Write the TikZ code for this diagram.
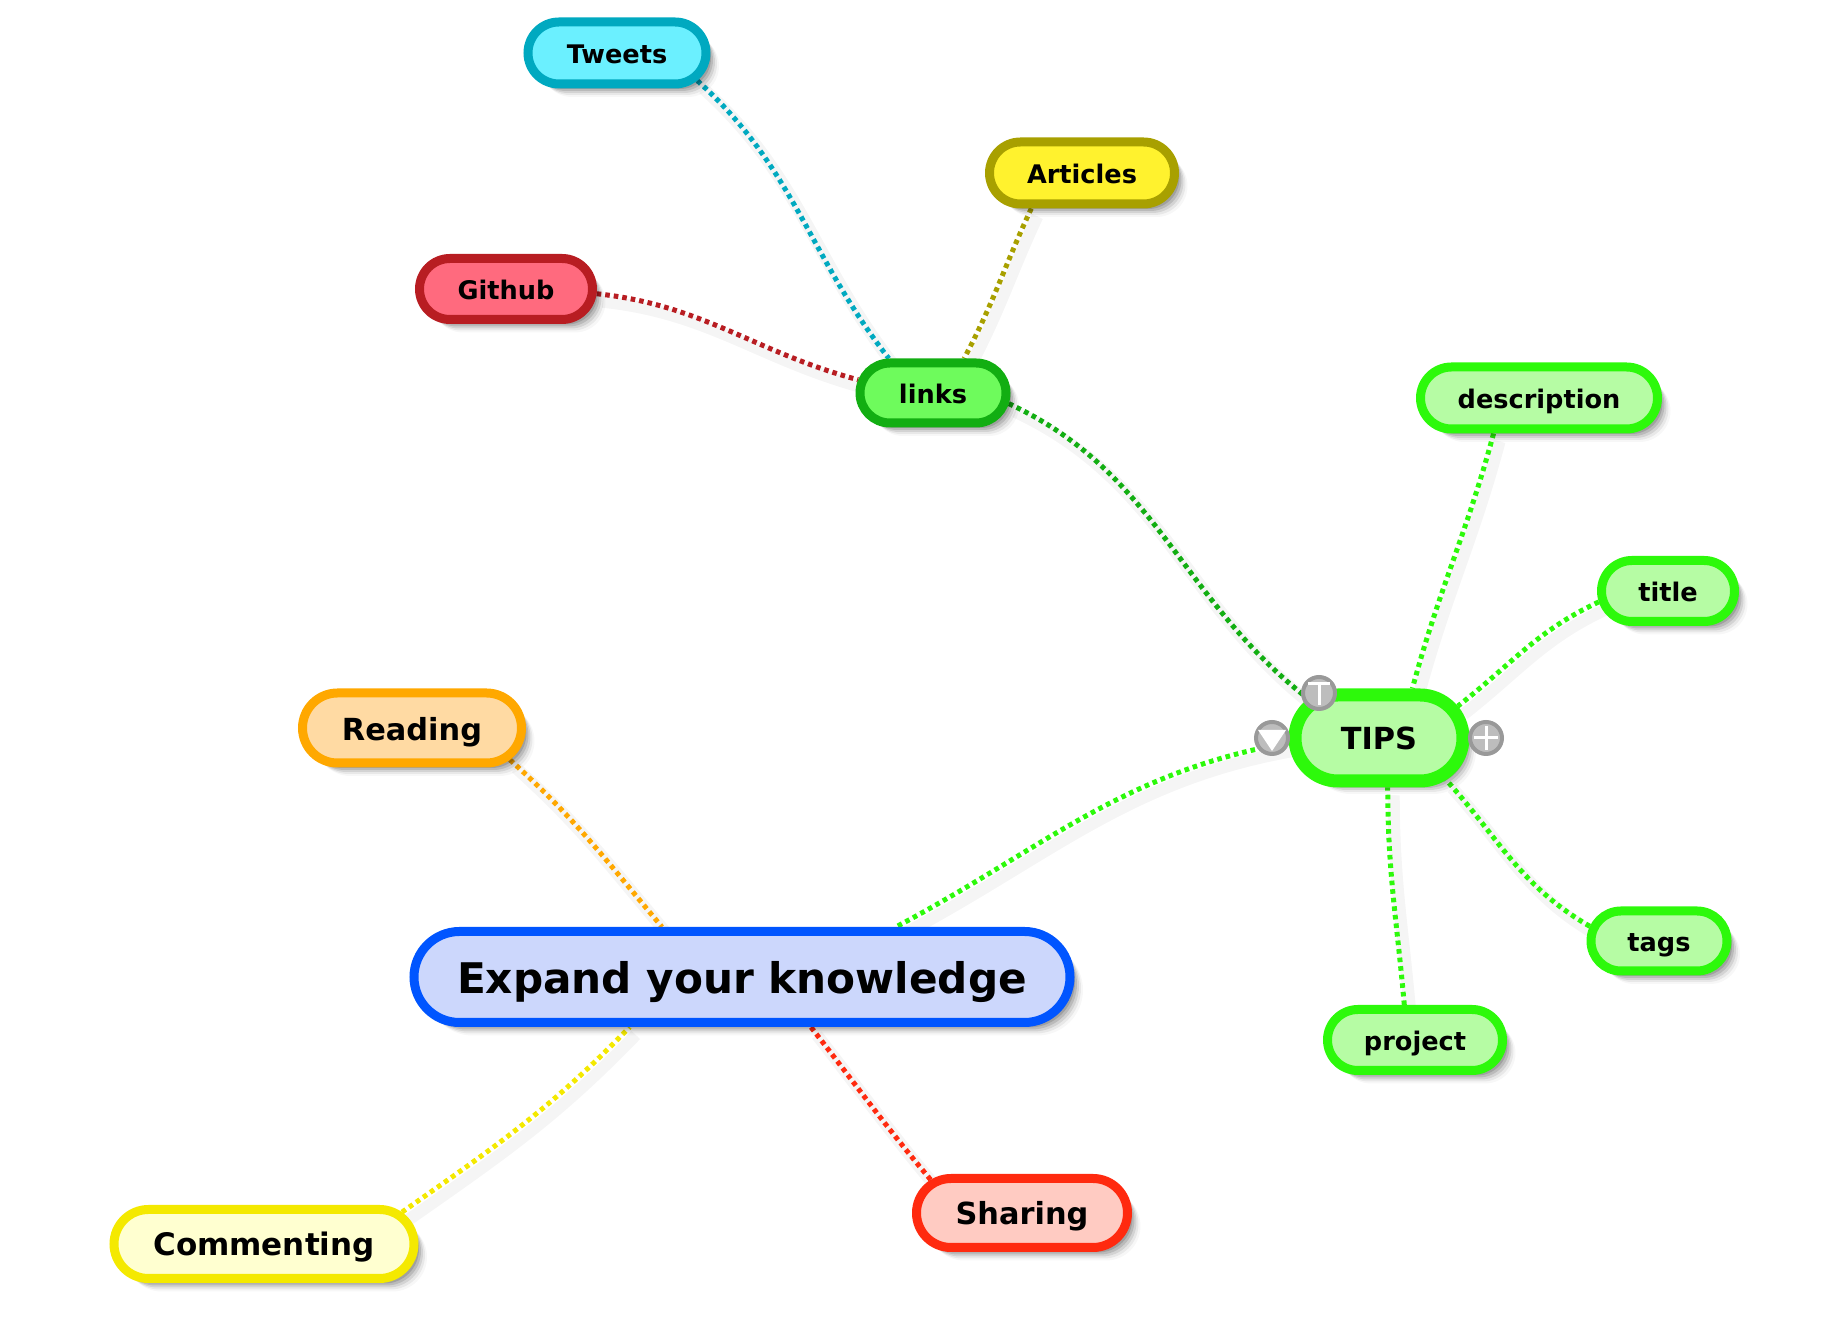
\documentclass[tikz,border=0pt]{standalone}
\usepackage{fontspec}
\setmainfont{DejaVu Sans}
\usetikzlibrary{shapes.misc}
\usetikzlibrary{shadows}
\usetikzlibrary{backgrounds}

\definecolor{tealline}{HTML}{00A9C0}
\definecolor{tealfill}{HTML}{6BF0FF}
\definecolor{oliveline}{HTML}{A8A000}
\definecolor{olivefill}{HTML}{FFF22E}
\definecolor{redline}{HTML}{B81D22}
\definecolor{redfill}{HTML}{FF6A7E}
\definecolor{darkline}{HTML}{12AE12}
\definecolor{darkfill}{HTML}{6EFB5C}
\definecolor{limeline}{HTML}{2DF90B}
\definecolor{limefill}{HTML}{B6FCA4}
\definecolor{orangeline}{HTML}{FFA800}
\definecolor{orangefill}{HTML}{FFDAA3}
\definecolor{blueline}{HTML}{0055FF}
\definecolor{bluefill}{HTML}{CCD7FC}
\definecolor{yellowline}{HTML}{F4E900}
\definecolor{yellowfill}{HTML}{FFFFD0}
\definecolor{scarletline}{HTML}{FF2A0F}
\definecolor{scarletfill}{HTML}{FFCBC2}

\tikzset{
    softshadow/.style={
        drop shadow={shadow xshift=1.5pt,shadow yshift=-1.5pt,fill=black,opacity=.14},
        drop shadow={shadow xshift=2.5pt,shadow yshift=-2.5pt,fill=black,opacity=.14},
        drop shadow={shadow xshift=3.5pt,shadow yshift=-3.5pt,fill=black,opacity=.12},
        drop shadow={shadow xshift=4.5pt,shadow yshift=-4.5pt,fill=black,opacity=.09},
        drop shadow={shadow xshift=5.5pt,shadow yshift=-5.5pt,fill=black,opacity=.06},
        drop shadow={shadow xshift=6.5pt,shadow yshift=-6.5pt,fill=black,opacity=.03}},
    topic/.style 2 args={rounded rectangle,draw=#1,fill=#2,line width=4.5pt,inner sep=0pt,
        text height=10.4pt,text depth=0pt,font=\bfseries\fontsize{12.8pt}{14pt}\selectfont,softshadow},
    midtopic/.style={text height=12pt,font=\bfseries\fontsize{15.2pt}{18pt}\selectfont},
    link/.style={draw=#1,line width=2.5pt,dash pattern=on 2.3pt off 2pt,
        preaction={draw=black!4,solid,line width=6pt,transform canvas={shift={(3pt,-4pt)}}},
        preaction={draw=black!4,solid,line width=3pt,transform canvas={shift={(3pt,-4pt)}}}},
    handle/.style={circle,draw=black!40,fill=black!26,line width=2pt,minimum size=16pt,inner sep=0pt}
}

\begin{document}
\begin{tikzpicture}[x=0.5pt,y=0.5pt]
    \useasboundingbox (0,0) rectangle (1828,1344);
    \node[topic={tealline}{tealfill},minimum width=89pt,minimum height=31pt] (tweets) at (617,1291) {Tweets};
    \node[topic={oliveline}{olivefill},minimum width=92.5pt,minimum height=31pt] (articles) at (1082,1171) {Articles};
    \node[topic={redline}{redfill},minimum width=86.5pt,minimum height=30.5pt] (github) at (506,1055) {Github};
    \node[topic={darkline}{darkfill},minimum width=73pt,minimum height=30pt] (links) at (933,951) {links};
    \node[topic={limeline}{limefill},minimum width=118.5pt,minimum height=31pt] (description) at (1539,946) {description};
    \node[topic={limeline}{limefill},minimum width=66.5pt,minimum height=30.5pt] (title) at (1668,753) {title};
    \node[topic={limeline}{limefill},minimum width=68pt,minimum height=30pt] (tags) at (1659,403) {tags};
    \node[topic={limeline}{limefill},minimum width=87.5pt,minimum height=30.5pt] (project) at (1415,304) {project};
    \node[topic={limeline}{limefill},midtopic,line width=6.5pt,minimum width=84pt,minimum height=43pt] (tips) at (1379,606) {TIPS};
    \node[topic={orangeline}{orangefill},midtopic,minimum width=109.5pt,minimum height=35pt,text height=13pt] (reading) at (412,616) {Reading};
    \node[topic={blueline}{bluefill},minimum width=328pt,minimum height=45.5pt,text height=16.6pt,font=\bfseries\fontsize{21.1pt}{24pt}\selectfont] (expand) at (742,367) {Expand your knowledge};
    \node[topic={yellowline}{yellowfill},midtopic,minimum width=150pt,minimum height=34.5pt] (commenting) at (264,100) {\fontsize{15.5pt}{18pt}\selectfont Commenting};
    \node[topic={scarletline}{scarletfill},midtopic,minimum width=105.5pt,minimum height=34.5pt] (sharing) at (1022,131) {Sharing};
    \node[handle] (tipstop) at (1319,651) {};
    \node[handle] (tipsdown) at (1272,606) {};
    \node[handle] (tipsadd) at (1486,606) {};
    \draw[white,line width=1.5pt] ([shift={(-5.5pt,4.5pt)}]tipstop.center) -- ([shift={(5.5pt,4.5pt)}]tipstop.center);
    \draw[white,line width=1.5pt] ([shift={(0pt,4.5pt)}]tipstop.center) -- ([shift={(0pt,-6pt)}]tipstop.center);
    \fill[white] ([shift={(-7pt,4pt)}]tipsdown.center) -- ([shift={(7pt,4pt)}]tipsdown.center) -- ([shift={(0pt,-6.5pt)}]tipsdown.center) -- cycle;
    \draw[white,line width=1.5pt] ([shift={(-6pt,0pt)}]tipsadd.center) -- ([shift={(6pt,0pt)}]tipsadd.center);
    \draw[white,line width=1.5pt] ([shift={(0pt,-6pt)}]tipsadd.center) -- ([shift={(0pt,6pt)}]tipsadd.center);
    \begin{pgfonlayer}{background}
        \draw[link=tealline] (tweets.-19) to[out=-42,in=128] (links.142);
        \draw[link=oliveline] (articles.215) to[out=-115,in=62] (links.48);
        \draw[link=redline] (github.-3) to[out=-6,in=165] (links.170);
        \draw[link=darkline] (links.-8) to[out=-25,in=142] (tips.151);
        \draw[link=limeline] (description.218) to[out=-105,in=75] (tips.56);
        \draw[link=limeline] (title.189) to[out=205,in=38] (tips.22);
        \draw[link=limeline] (tags.168) to[out=150,in=-48] (tips.-32);
        \draw[link=limeline] (project.107) to[out=95,in=-90] (tips.-80);
        \draw[link=limeline] (tips.183) to[out=190,in=28] (expand.18);
        \draw[link=orangeline] (reading.-18) to[out=-42,in=130] (expand.148);
        \draw[link=yellowline] (commenting.13) to[out=35,in=226] (expand.204);
        \draw[link=scarletline] (sharing.160) to[out=130,in=-52] (expand.-36);
    \end{pgfonlayer}
\end{tikzpicture}
\end{document}
